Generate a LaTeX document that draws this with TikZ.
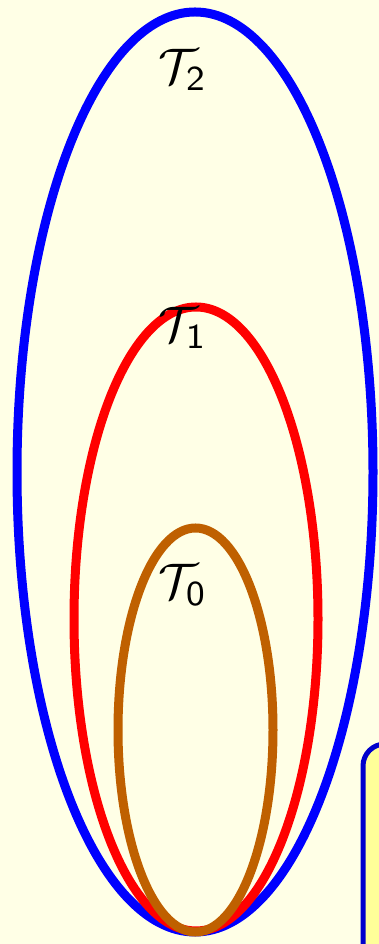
\documentclass[tikz,border=0pt]{standalone}
\usepackage{xcolor}
\definecolor{bgyellow}{RGB}{255,255,230}
\definecolor{boxfill}{RGB}{255,255,153}
\definecolor{boxline}{RGB}{0,0,204}
\definecolor{tzero}{RGB}{191,96,0}
\tikzset{
  ring/.style={line width=9pt},
  lbl/.style={inner sep=0pt, scale=5}
}
\begin{document}
\begin{tikzpicture}[x=1pt,y=1pt]
\useasboundingbox (0,0) rectangle (379,944);
\fill[bgyellow] (0,0) rectangle (379,944);
\begin{scope}
\clip (0,0) rectangle (379,944);
\draw[ring, blue] (195,472) ellipse [x radius=178, y radius=460];
\draw[ring, red] (196,325) ellipse [x radius=122, y radius=312];
\draw[ring, tzero] (195.5,214) ellipse [x radius=77.5, y radius=202];
\draw[line width=5pt, boxline, fill=boxfill, rounded corners=22pt] (363,-30) rectangle (440,200);
\end{scope}
\node[lbl] (t2) at (183,874) {$\mathcal{T}_{\mathsf{2}}$};
\node[lbl] (t1) at (183,616) {$\mathcal{T}_{\mathsf{1}}$};
\node[lbl] (t0) at (183,359) {$\mathcal{T}_{\mathsf{0}}$};
\end{tikzpicture}
\end{document}
